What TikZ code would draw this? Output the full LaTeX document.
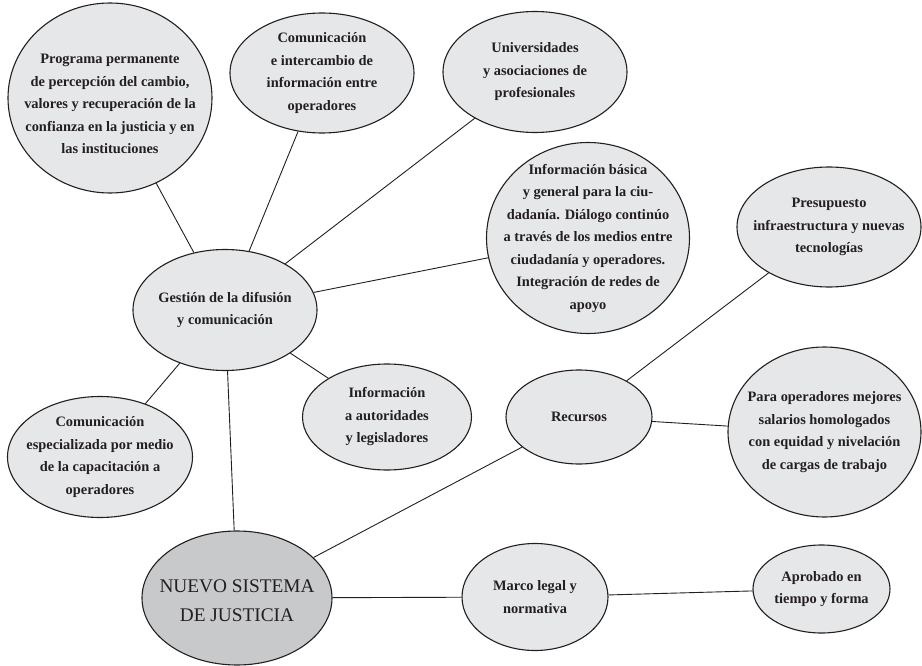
\documentclass[tikz,border=0pt]{standalone}
\usepackage{fontspec}
\setmainfont{Liberation Serif}
\usetikzlibrary{shapes.geometric}
\definecolor{fillA}{HTML}{E6E7E8}
\definecolor{fillB}{HTML}{C8C9CB}
\definecolor{ink}{HTML}{231F20}
\begin{document}
\begin{tikzpicture}[x=1pt,y=-1pt,
  bub/.style={ellipse,draw=ink,line width=1.1pt,fill=fillA,inner sep=0pt},
  txt/.style={align=center,text=ink,font=\bfseries\fontsize{14.4}{22.5}\selectfont},
  bigtxt/.style={align=center,text=ink,font=\fontsize{19.3}{29}\selectfont},
  link/.style={draw=ink,line width=0.9pt}]
\useasboundingbox (0,0) rectangle (922,666);

\node[bub,minimum width=204,minimum height=190,
  label={[txt,yshift=-6pt]center:Programa permanente\\de percepción del cambio,\\valores y recuperación de la\\confianza en la justicia y en\\las instituciones}] (prog) at (110,98) {};
\node[bub,minimum width=184,minimum height=120,
  label={[txt]center:Comunicación\\e intercambio de\\información entre\\operadores}] (comm) at (322,73) {};
\node[bub,minimum width=184,minimum height=121,
  label={[txt]center:Universidades\\y asociaciones de\\profesionales}] (univ) at (535,72) {};
\node[bub,minimum width=203,minimum height=191,
  label={[txt]center:Información básica\\y general para la ciu-\\dadanía. Diálogo continúo\\a través de los medios entre\\ciudadanía y operadores.\\Integración de redes de\\apoyo}] (info) at (588,238) {};
\node[bub,minimum width=184,minimum height=120,
  label={[txt]center:Presupuesto\\infraestructura y nuevas\\tecnologías}] (pres) at (829,227) {};
\node[bub,minimum width=184,minimum height=121,
  label={[txt]center:Gestión de la difusión\\y comunicación}] (gest) at (225,310) {};
\node[bub,minimum width=185,minimum height=121,
  label={[txt]center:Comunicación\\especializada por medio\\de la capacitación a\\operadores}] (esp) at (100,457) {};
\node[bub,minimum width=169,minimum height=106,
  label={[txt]center:Información\\a autoridades\\y legisladores}] (aut) at (387,417) {};
\node[bub,minimum width=146,minimum height=94,
  label={[txt]center:Recursos}] (rec) at (579,417) {};
\node[bub,minimum width=193,minimum height=170,
  label={[txt]center:Para operadores mejores\\salarios homologados\\con equidad y nivelación\\de cargas de trabajo}] (para) at (824.5,432) {};
\node[bub,minimum width=146,minimum height=107,
  label={[txt]center:Marco legal y\\normativa}] (marco) at (535,597) {};
\node[bub,minimum width=137,minimum height=88,
  label={[txt]center:Aprobado en\\tiempo y forma}] (aprob) at (821.5,589) {};
\node[bub,fill=fillB,minimum width=190,minimum height=134,
  label={[bigtxt,yshift=-3pt]center:NUEVO SISTEMA\\DE JUSTICIA}] (nuevo) at (237,598) {};

\draw[link] (prog) -- (gest);
\draw[link] (comm) -- (gest);
\draw[link] (univ) -- (gest);
\draw[link] (info) -- (gest);
\draw[link] (gest) -- (aut);
\draw[link] (gest) -- (esp);
\draw[link] (gest) -- (nuevo);
\draw[link] (nuevo) -- (rec);
\draw[link] (nuevo) -- (marco);
\draw[link] (rec) -- (pres);
\draw[link] (rec) -- (para);
\draw[link] (marco) -- (aprob);
\end{tikzpicture}
\end{document}
